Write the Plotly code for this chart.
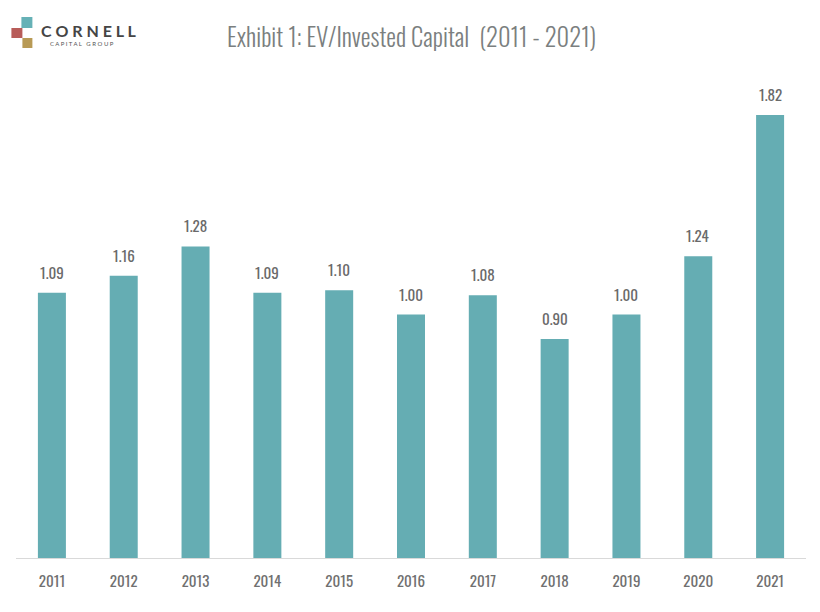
import plotly.graph_objects as go

years = ["2011", "2012", "2013", "2014", "2015", "2016", "2017", "2018", "2019", "2020", "2021"]
values = [1.09, 1.16, 1.28, 1.09, 1.10, 1.00, 1.08, 0.90, 1.00, 1.24, 1.82]

TITLE_FONT = "Oswald, Roboto Condensed, sans-serif"
LABEL_FONT = "Oswald, Roboto Condensed, sans-serif"

# plot area in page pixels (page has an 8px offset)
OFF = 8
PL, PR, PT, PB = 15.6, 806.0, 60.0, 558.0
W, H = 820, 612

fig = go.Figure(go.Bar(
    x=years, y=values,
    marker=dict(color="#65adb3", line=dict(width=0)),
    width=0.39,
    hoverinfo="x+y",
))

# value labels: category index positions on the category axis
for i, v in enumerate(values):
    fig.add_annotation(x=i, y=v, text=f"{v:.2f}", showarrow=False,
                       yanchor="bottom", yshift=8,
                       font=dict(family=LABEL_FONT, size=15, color="#6a6a6a", weight=400))

fig.update_layout(
    width=W, height=H,
    margin=dict(l=PL - OFF, r=W - (PR - OFF), t=PT - OFF, b=H - (PB - OFF), autoexpand=False),
    paper_bgcolor="white", plot_bgcolor="white",
    showlegend=False,
    xaxis=dict(type="category", range=[-0.5, len(years) - 0.5],
               showgrid=False, showline=True, linecolor="#d9d9d9", linewidth=1,
               ticks="", ticklabelstandoff=10,
               tickfont=dict(family=LABEL_FONT, size=15, color="#707070", weight=400)),
    yaxis=dict(range=[0, 2.046], visible=False, showgrid=False),
)

pw = PR - PL
ph = PB - PT
def px(x):
    return (x - PL) / pw
def py(y):
    return (PB - y) / ph

fig.add_annotation(text="Exhibit 1: EV/Invested Capital  (2011 - 2021)", xref="paper", yref="paper",
                   x=px(411), y=py(36), xanchor="center", yanchor="middle", showarrow=False,
                   font=dict(family=TITLE_FONT, size=24.5, color="#7b7f7f", weight=300))

# logo
shapes = [
    dict(x0=21, x1=32, y0=17, y1=28, color="#66b1b6"),
    dict(x0=11, x1=22, y0=28, y1=38, color="#b85c59"),
    dict(x0=22, x1=32, y0=38, y1=48, color="#b89a55"),
]
for s in shapes:
    fig.add_shape(type="rect", xref="paper", yref="paper",
                  x0=px(s["x0"]), x1=px(s["x1"]), y0=py(s["y1"]), y1=py(s["y0"]),
                  fillcolor=s["color"], line=dict(width=0), layer="above")
fig.add_annotation(text="<b>C O R N E L L</b>", xref="paper", yref="paper",
                   x=px(39), y=py(30.5), xanchor="left", yanchor="middle",
                   showarrow=False, font=dict(family="Lato, sans-serif", size=16, color="#454545"))
fig.add_annotation(text="C A P I T A L   G R O U P", xref="paper", yref="paper",
                   x=px(48), y=py(43), xanchor="left", yanchor="middle",
                   showarrow=False, font=dict(family="Lato, sans-serif", size=6, color="#555555"))

fig.write_html("out.html")
